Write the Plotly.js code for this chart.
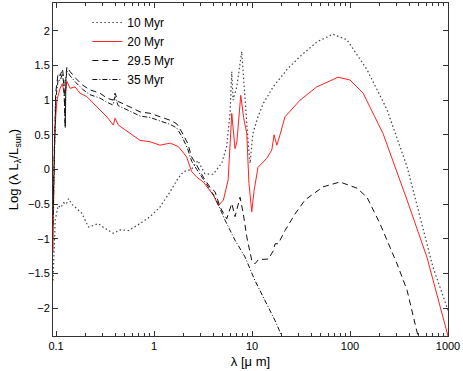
<!DOCTYPE html>
<html>
<head>
<meta charset="utf-8">
<script src="https://cdn.plot.ly/plotly-3.0.1.min.js"></script>
<style>
  body { margin: 0; background: #fff; }
  #sed { width: 463px; height: 371px; }
</style>
</head>
<body>
<div id="sed"></div>
<script>
// wavelength in micron, log(lambda L_lambda / L_sun)
const lam10 = [0.093, 0.096, 0.098, 0.105, 0.112, 0.119, 0.127, 0.134, 0.145, 0.156, 0.183, 0.214, 0.245, 0.27, 0.316, 0.384, 0.45, 0.547, 0.72, 0.91, 1.15, 1.46, 1.77, 2.0, 2.4, 2.8, 3.3, 4.0, 4.9, 5.5, 5.96, 6.21, 6.4, 6.98, 7.85, 8.48, 9.0, 9.55, 10.2, 11.5, 13, 16.4, 22.7, 30.9, 46, 67, 93, 149, 239, 382, 700, 1000];
const sed10 = [-1.6, -1.0, -0.73, -0.52, -0.55, -0.48, -0.5, -0.42, -0.5, -0.54, -0.63, -0.83, -0.8, -0.78, -0.85, -0.92, -0.87, -0.88, -0.78, -0.68, -0.54, -0.32, -0.12, -0.03, 0.0, 0.13, -0.06, -0.07, 0.09, 0.33, 0.8, 1.41, 1.0, 1.19, 1.7, 1.0, 0.5, 0.09, 0.52, 0.76, 0.95, 1.19, 1.44, 1.63, 1.84, 1.95, 1.87, 1.44, 0.86, 0.04, -1.4, -2.03];

const lam20 = [0.093, 0.096, 0.099, 0.102, 0.11, 0.116, 0.12, 0.124, 0.129, 0.139, 0.156, 0.176, 0.206, 0.26, 0.329, 0.384, 0.4, 0.432, 0.569, 0.72, 0.91, 1.15, 1.46, 1.77, 2.15, 2.33, 2.42, 2.73, 3.18, 4.03, 4.53, 5.1, 5.7, 6.21, 6.7, 7.0, 7.67, 8.2, 8.83, 9.3, 9.93, 10.5, 11.5, 14.1, 15.9, 16.8, 17.9, 19.3, 21.7, 30.9, 45.7, 75.5, 100, 136, 217, 382, 611, 1000];
const sed20 = [-1.2, 0.3, 0.75, 1.0, 1.17, 1.24, 1.12, 1.1, 1.27, 1.17, 1.19, 1.1, 1.05, 0.9, 0.76, 0.64, 0.74, 0.64, 0.52, 0.42, 0.4, 0.35, 0.38, 0.33, 0.18, 0.04, -0.03, -0.11, -0.18, -0.37, -0.52, -0.44, -0.15, 0.81, 0.3, 0.4, 1.07, 0.75, 0.52, -0.2, -0.61, -0.3, 0.03, 0.16, 0.28, 0.5, 0.35, 0.5, 0.76, 1.0, 1.19, 1.33, 1.29, 1.1, 0.52, -0.44, -1.27, -2.4];

const lam29 = [0.093, 0.096, 0.099, 0.105, 0.11, 0.116, 0.12, 0.124, 0.126, 0.129, 0.139, 0.16, 0.185, 0.22, 0.28, 0.33, 0.38, 0.4, 0.43, 0.57, 0.72, 0.91, 1.15, 1.46, 1.7, 1.92, 2.2, 2.42, 2.73, 3.18, 3.7, 4.19, 4.71, 5.52, 6.21, 6.71, 7.54, 8.15, 8.83, 9.93, 10.7, 11.6, 14.7, 16.5, 17.2, 18.5, 21.7, 27.5, 34.7, 53, 79, 118, 149, 202, 302, 382, 494];
const sed29 = [-0.6, 0.5, 1.1, 1.39, 1.35, 1.45, 1.3, 0.62, 1.35, 1.48, 1.41, 1.31, 1.22, 1.15, 1.1, 1.03, 1.0, 1.1, 0.98, 0.9, 0.83, 0.81, 0.76, 0.71, 0.66, 0.54, 0.38, 0.18, 0.06, -0.11, -0.25, -0.32, -0.54, -0.71, -0.49, -0.68, -0.4, -0.64, -0.97, -1.31, -1.36, -1.3, -1.29, -1.17, -1.07, -1.07, -0.88, -0.64, -0.44, -0.25, -0.18, -0.27, -0.4, -0.78, -1.36, -1.74, -2.4];

const lam35 = [0.093, 0.096, 0.099, 0.105, 0.11, 0.116, 0.12, 0.124, 0.126, 0.129, 0.139, 0.16, 0.185, 0.22, 0.28, 0.33, 0.38, 0.4, 0.43, 0.57, 0.72, 0.91, 1.15, 1.46, 1.7, 1.92, 2.2, 2.42, 2.73, 3.18, 3.7, 4.19, 5.3, 6.71, 8.48, 10.7, 13.6, 17.2, 20.1];
const sed35 = [-0.8, 0.4, 1.0, 1.3, 1.28, 1.38, 1.22, 0.6, 1.3, 1.42, 1.35, 1.25, 1.16, 1.08, 1.03, 0.97, 0.93, 1.05, 0.92, 0.84, 0.77, 0.75, 0.7, 0.65, 0.6, 0.48, 0.3, 0.12, 0.0, -0.15, -0.28, -0.4, -0.73, -1.02, -1.26, -1.6, -1.89, -2.18, -2.4];

const xTicks = [0.1, 1, 10, 100, 1000];
const xTickText = ['0.1', '1', '10', '100', '1000'];

// minor ticks 2..9 in each decade
const minorTicks = [];
[0.1, 1, 10, 100].forEach(d => {
    for (let k = 2; k <= 9; k++) minorTicks.push(k * d);
});

const traces = [
    {x: lam10, y: sed10, mode: 'lines', name: '10 Myr',
     line: {color: '#444444', width: 1.2, dash: '1.5px,2.5px'}},
    {x: lam20, y: sed20, mode: 'lines', name: '20 Myr',
     line: {color: '#ff2020', width: 1}},
    {x: lam29, y: sed29, mode: 'lines', name: '29.5 Myr',
     line: {color: '#111111', width: 1, dash: '6px,4px'}},
    {x: lam35, y: sed35, mode: 'lines', name: '35 Myr',
     line: {color: '#111111', width: 1, dash: '5px,2px,1px,2px'}}
];

const layout = {
    width: 463,
    height: 371,
    margin: {l: 53, r: 15, t: 3, b: 35},
    paper_bgcolor: '#ffffff',
    plot_bgcolor: '#ffffff',
    font: {family: 'Liberation Sans, Arial, sans-serif', size: 11, color: '#000'},
    showlegend: true,
    legend: {
        x: 0.087, y: 0.985, xanchor: 'left', yanchor: 'top',
        bgcolor: 'rgba(0,0,0,0)', borderwidth: 0,
        itemwidth: 30, font: {size: 12}
    },
    xaxis: {
        type: 'log',
        range: [Math.log10(0.093), 3],
        tickmode: 'array', tickvals: xTicks, ticktext: xTickText,
        ticks: 'inside', ticklen: 5, tickcolor: '#333',
        minor: {ticks: 'inside', ticklen: 3, tickmode: 'array', tickvals: minorTicks, tickcolor: '#333'},
        showline: true, linecolor: '#333', linewidth: 1, mirror: 'allticks',
        showgrid: false, zeroline: false,
        title: {text: 'λ [μ m]', font: {size: 13}, standoff: 5},
        automargin: false
    },
    yaxis: {
        range: [-2.4, 2.4],
        tick0: 0, dtick: 0.5,
        ticks: 'inside', ticklen: 5, tickcolor: '#333',
        showline: true, linecolor: '#333', linewidth: 1, mirror: 'allticks',
        showgrid: false, zeroline: false,
        title: {text: 'Log (λ L<sub>λ</sub>/L<sub>sun</sub>)', font: {size: 13}, standoff: 6},
        automargin: false
    }
};

Plotly.newPlot(document.getElementById('sed'), traces, layout, {displayModeBar: false, staticPlot: true});
</script>
</body>
</html>
